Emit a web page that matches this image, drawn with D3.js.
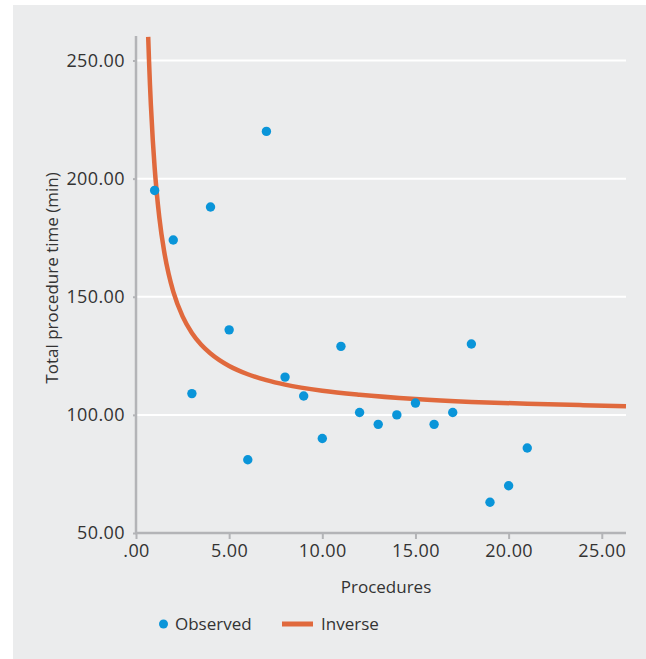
<!DOCTYPE html>
<html><head><meta charset="utf-8">
<script src="https://cdn.jsdelivr.net/npm/d3@7"></script>
<style>
html,body{margin:0;padding:0;background:#fff;}
svg{display:block;font-family:"Open Sans",sans-serif;}
</style></head>
<body>
<script>
// Observed data
const procedures = [1,2,3,4,5,6,7,8,9,10,11,12,13,14,15,16,17,18,19,20,21];
const totalTime  = [195,174,109,188,136,81,220,116,108,90,129,101,96,100,105,96,101,130,63,70,86];
// Inverse fit curve
const curveX = [0.655,0.7,0.75,0.8,0.9,1,1.1,1.25,1.5,1.75,2,2.5,3,3.5,4,5,6,7,8,10,12,15,18,21,24,26.3];
const curveY = [260,249.7,239.7,231,216.4,204.7,195.2,183.7,169.7,159.7,152.2,141.7,134.7,129.7,126,120.7,117.2,114.7,112.8,110.2,108.5,106.7,105.5,104.7,104.1,103.7];
const xTicks = [0,5,10,15,20,25];
const yTicks = [50,100,150,200,250];
const xLabel = "Procedures";
const yLabel = "Total procedure time (min)";
const legendLabels = ["Observed","Inverse"];

const W=646,H=659;
const svg=d3.select("body").append("svg").attr("width",W).attr("height",H);
svg.append("rect").attr("x",13).attr("y",5).attr("width",W-13).attr("height",H-5).attr("fill","#ebeced");

const x=d3.scaleLinear().domain([0,26.3]).range([136,626]);
const y=d3.scaleLinear().domain([50,250]).range([533,60.5]);
const fmt=v=> v===0?".00":d3.format(".2f")(v);

// gridlines
svg.append("g").selectAll("line").data(yTicks.filter(d=>d>50)).join("line")
  .attr("x1",x(0)).attr("x2",626).attr("y1",d=>y(d)).attr("y2",d=>y(d))
  .attr("stroke","#fff").attr("stroke-width",2);

// axes
const axisColor="#b3b4b7";
const gx=svg.append("g").attr("transform",`translate(0,${y(50)})`)
  .call(d3.axisBottom(x).tickValues(xTicks).tickFormat(fmt).tickSize(6).tickPadding(5));
const gy=svg.append("g").attr("transform",`translate(${x(0)},0)`)
  .call(d3.axisLeft(y).tickValues(yTicks).tickFormat(fmt).tickSize(4).tickPadding(7));
[gx,gy].forEach(g=>{
  g.select(".domain").remove();
  g.selectAll(".tick line").attr("stroke",axisColor).attr("stroke-width",2);
  g.selectAll("text").attr("fill","#333").attr("font-size",18)
    .attr("letter-spacing","0.4px").attr("font-family","Open Sans, sans-serif");
});
gy.selectAll(".tick line").attr("x2",-3);
svg.append("line").attr("x1",x(0)).attr("x2",x(0)).attr("y1",36).attr("y2",y(50)+1)
  .attr("stroke",axisColor).attr("stroke-width",2.5);
svg.append("line").attr("x1",x(0)-1).attr("x2",626).attr("y1",y(50)).attr("y2",y(50))
  .attr("stroke",axisColor).attr("stroke-width",2.5);

// curve
const line=d3.line().x(d=>x(d[0])).y(d=>y(d[1])).curve(d3.curveMonotoneX);
svg.append("path").datum(curveX.map((v,i)=>[v,curveY[i]]))
  .attr("d",line).attr("fill","none").attr("stroke","#e0693d").attr("stroke-width",4.5);

// points
svg.append("g").selectAll("circle").data(procedures.map((p,i)=>[p,totalTime[i]])).join("circle")
  .attr("cx",d=>x(d[0])).attr("cy",d=>y(d[1])).attr("r",4.7).attr("fill","#0a95d9");

// axis labels
svg.append("text").attr("x",386).attr("y",593).attr("text-anchor","middle")
  .attr("font-size",17).attr("fill","#333").text(xLabel);
svg.append("text").attr("transform","translate(58,278) rotate(-90)").attr("text-anchor","middle")
  .attr("font-size",17).attr("fill","#333").text(yLabel);

// legend
svg.append("circle").attr("cx",163.5).attr("cy",624).attr("r",4.5).attr("fill","#0a95d9");
svg.append("text").attr("x",175).attr("y",630).attr("font-size",17).attr("fill","#333").text(legendLabels[0]);
svg.append("line").attr("x1",282).attr("x2",313).attr("y1",624).attr("y2",624)
  .attr("stroke","#e0693d").attr("stroke-width",5);
svg.append("text").attr("x",321).attr("y",630).attr("font-size",17).attr("fill","#333").text(legendLabels[1]);
</script>
</body></html>
